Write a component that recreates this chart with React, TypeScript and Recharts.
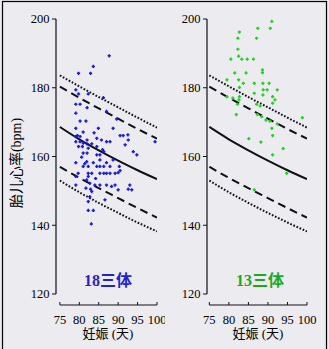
import { ComposedChart, Line, ReferenceLine, Scatter, XAxis, YAxis } from "recharts";

// reference curves (same in both panels)
const REF_DAYS = [75, 80, 85, 90, 95, 100];
const P_HI_DOT = [183.6, 180.4, 177.3, 174.3, 171.3, 168.4];
const P_HI_DASH = [180.3, 177.1, 174.0, 171.0, 168.0, 165.2];
const P_MED = [168.6, 165.0, 161.8, 158.8, 156.0, 153.4];
const P_LO_DASH = [157.0, 153.8, 150.8, 147.9, 145.0, 142.2];
const P_LO_DOT = [153.0, 149.6, 146.5, 143.6, 140.8, 138.2];

const X_TICKS = [75, 80, 85, 90, 95, 100];
const Y_TICKS = [120, 140, 160, 180, 200];

// trisomy 18 cases
const T18_DAYS = [
  87.7, 83.6, 79.8, 82.9, 79.1, 79.8, 82.3, 86.2, 79.1, 80.2, 82.0, 87.0, 89.6, 79.1, 80.2, 81.7,
  79.1, 84.9, 88.7, 81.0, 79.5, 79.1, 80.2, 82.0, 84.5, 85.7, 79.1, 80.2, 81.0, 82.0, 83.2, 79.8,
  80.8, 82.3, 84.5, 87.0, 87.9, 91.8, 90.5, 91.3, 92.6, 99.5, 93.9, 81.0, 82.0, 84.5, 85.3, 86.3,
  94.8, 79.1, 81.9, 83.6, 85.3, 87.0, 88.7, 81.0, 82.3, 84.5, 85.3, 86.3, 87.9, 90.3, 90.5, 79.7,
  82.3, 83.2, 85.3, 86.3, 87.9, 90.0, 87.0, 89.2, 79.1, 82.3, 81.9, 79.1, 82.7, 84.0, 85.3, 87.0,
  89.2, 81.7, 82.9, 83.2, 88.3, 93.0, 92.6, 93.5, 90.0, 82.7, 86.6, 82.3, 82.3, 83.6, 83.1, 92.5,
  80.6, 83.8, 86.0, 81.4, 84.2,
];
const T18_BPM = [
  189.3, 186.2, 184.2, 184.2, 179.4, 178.2, 178.2, 177.1, 175.2, 175.2, 174.2, 173.1, 170.9, 172.6, 170.3, 170.3,
  168.2, 168.2, 168.2, 167.1, 166.1, 165.8, 165.8, 164.8, 165.3, 164.8, 164.3, 164.3, 163.9, 163.7, 163.7, 162.9,
  162.9, 162.4, 162.9, 164.3, 164.3, 163.4, 166.1, 166.1, 164.8, 164.3, 161.4, 161.0, 161.0, 160.5, 160.5, 161.4,
  160.5, 158.2, 158.5, 158.2, 159.0, 158.2, 159.0, 157.1, 157.1, 157.1, 157.1, 157.1, 157.1, 157.1, 155.9, 155.1,
  155.1, 155.1, 155.1, 155.1, 155.1, 155.3, 155.1, 155.1, 154.2, 154.2, 153.2, 151.7, 152.2, 151.7, 151.7, 151.7,
  151.7, 150.8, 150.5, 149.8, 151.3, 151.7, 150.5, 150.3, 150.3, 148.3, 147.4, 146.9, 144.3, 144.3, 140.4, 166.3,
  159.8, 166.9, 162.0, 157.9, 153.6,
];

// trisomy 13 cases
const T13_DAYS = [
  91.0, 87.4, 90.6, 82.7, 82.3, 87.1, 82.3, 82.5, 80.5, 83.3, 84.7, 86.3, 88.6, 88.6, 81.5, 84.4,
  79.5, 82.5, 83.7, 86.5, 88.7, 90.3, 82.7, 88.8, 89.8, 92.4, 79.5, 82.7, 86.5, 88.7, 91.2, 81.0,
  82.6, 91.8, 82.2, 87.1, 88.0, 91.2, 81.9, 87.3, 88.4, 89.5, 90.5, 92.4, 91.0, 91.2, 98.8, 85.1,
  88.2, 91.2, 93.9, 94.8, 86.5,
];
const T13_BPM = [
  199.3, 197.3, 197.3, 196.2, 194.4, 194.4, 191.2, 189.2, 188.3, 188.3, 188.3, 188.3, 185.2, 184.4, 184.3, 184.3,
  182.3, 182.3, 181.3, 181.3, 181.3, 181.3, 180.1, 179.4, 179.4, 179.4, 177.4, 177.4, 178.4, 177.9, 177.4, 177.0,
  176.5, 176.5, 175.2, 175.2, 174.7, 175.5, 172.2, 172.2, 171.6, 170.6, 170.3, 169.5, 168.2, 166.1, 171.3, 165.2,
  164.2, 160.5, 162.3, 155.1, 150.3,
];

const REF_DATA = REF_DAYS.map((day, i) => ({
  day,
  hiDot: P_HI_DOT[i],
  hiDash: P_HI_DASH[i],
  med: P_MED[i],
  loDash: P_LO_DASH[i],
  loDot: P_LO_DOT[i],
}));

const T18 = T18_DAYS.map((day, i) => ({ day, bpm: T18_BPM[i] }));
const T13 = T13_DAYS.map((day, i) => ({ day, bpm: T13_BPM[i] }));

const SERIF = '"Liberation Serif", "DejaVu Serif", serif';
const CJK = '"Liberation Serif", "Noto Sans CJK SC", serif';
const INK = "#101018";
const Y_MIN = 116.8;

const XTick = (props: any) => {
  const { x, y, payload } = props;
  return (
    <g>
      <line x1={x} x2={x} y1={y} y2={y - 3} stroke={INK} />
      <text x={x} y={y + 19} textAnchor="middle" fontSize={12.5} fontFamily={SERIF} fill="#000">
        {payload.value}
      </text>
    </g>
  );
};

const YTick = (props: any) => {
  const { x, y, payload } = props;
  return (
    <g>
      <line x1={x - 4} x2={x} y1={y} y2={y} stroke={INK} />
      <text x={x - 6.5} y={y} dy="0.35em" textAnchor="end" fontSize={12.5} fontFamily={SERIF} fill="#000">
        {payload.value}
      </text>
    </g>
  );
};

const plus = (color: string) => (props: any) => {
  const { cx, cy } = props;
  return (
    <path
      d={`M${cx - 1.6},${cy}h3.2M${cx},${cy - 1.6}v3.2`}
      stroke={color}
      strokeWidth={1.5}
      fill="none"
    />
  );
};

type PanelProps = {
  left: number;
  width: number;
  yWidth: number;
  right: number;
  xMin: number;
  points: { day: number; bpm: number }[];
  color: string;
};

const Panel = ({ left, width, yWidth, right, xMin, points, color }: PanelProps) => (
  <div style={{ position: "absolute", left, top: 0 }}>
    <ComposedChart
      width={width}
      height={349}
      data={REF_DATA}
      margin={{ top: 19, right, bottom: 14, left: 0 }}
    >
      <XAxis
        dataKey="day"
        type="number"
        domain={[xMin, 100]}
        ticks={X_TICKS}
        allowDataOverflow
        axisLine={false}
        tickLine={false}
        tickSize={0}
        tickMargin={0}
        height={30}
        tick={XTick}
        interval={0}
      />
      <YAxis
        type="number"
        domain={[Y_MIN, 200]}
        ticks={Y_TICKS}
        allowDataOverflow
        axisLine={false}
        tickLine={false}
        tickSize={0}
        tickMargin={0}
        width={yWidth}
        tick={YTick}
        interval={0}
      />
      <ReferenceLine
        segment={[{ x: xMin, y: 120 }, { x: xMin, y: 200 }]}
        stroke={INK}
        strokeWidth={1.2}
        ifOverflow="visible"
      />
      <ReferenceLine
        segment={[{ x: 75, y: Y_MIN }, { x: 100, y: Y_MIN }]}
        stroke={INK}
        strokeWidth={1.2}
        ifOverflow="visible"
      />
      <Line dataKey="hiDot" type="monotone" stroke={INK} strokeWidth={2} strokeDasharray="1.7 1.7" dot={false} activeDot={false} isAnimationActive={false} />
      <Line dataKey="hiDash" type="monotone" stroke={INK} strokeWidth={2} strokeDasharray="8 5" dot={false} activeDot={false} isAnimationActive={false} />
      <Line dataKey="med" type="monotone" stroke={INK} strokeWidth={2} dot={false} activeDot={false} isAnimationActive={false} />
      <Line dataKey="loDash" type="monotone" stroke={INK} strokeWidth={2} strokeDasharray="8 5" dot={false} activeDot={false} isAnimationActive={false} />
      <Line dataKey="loDot" type="monotone" stroke={INK} strokeWidth={2} strokeDasharray="1.7 1.7" dot={false} activeDot={false} isAnimationActive={false} />
      <Scatter data={points} dataKey="bpm" shape={plus(color)} isAnimationActive={false} />
    </ComposedChart>
  </div>
);

export default function App() {
  return (
    <div
      style={{
        position: "absolute",
        left: 0,
        top: 0,
        width: 329,
        height: 349,
        background: "#ecebf0",
        overflow: "hidden",
      }}
    >
      <Panel left={0} width={165} yWidth={56} right={8} xMin={74} points={T18} color="#1a1ad8" />
      <Panel left={165} width={164} yWidth={42} right={22} xMin={74.4} points={T13} color="#22d022" />
      <svg
        width={329}
        height={349}
        style={{ position: "absolute", left: 0, top: 0, pointerEvents: "none" }}
      >
        <rect x={2.5} y={1.5} width={324} height={360} fill="none" stroke="#000" strokeWidth={1.2} />
        <text
          transform="rotate(-90 16 163)"
          x={16}
          y={163}
          dy="0.35em"
          textAnchor="middle"
          fontSize={14}
          fontFamily={CJK}
          fill="#000"
        >
          胎儿心率(bpm)
        </text>
        <text x={108} y={338} textAnchor="middle" fontSize={13} fontFamily={CJK} fill="#000">
          妊娠 (天)
        </text>
        <text x={258} y={338} textAnchor="middle" fontSize={13} fontFamily={CJK} fill="#000">
          妊娠 (天)
        </text>
        <text x={108} y={286} textAnchor="middle" fontSize={16} fontWeight="bold" fontFamily={CJK} fill="#2323c8">
          18三体
        </text>
        <text x={260} y={286} textAnchor="middle" fontSize={16} fontWeight="bold" fontFamily={CJK} fill="#1fa81f">
          13三体
        </text>
      </svg>
    </div>
  );
}
